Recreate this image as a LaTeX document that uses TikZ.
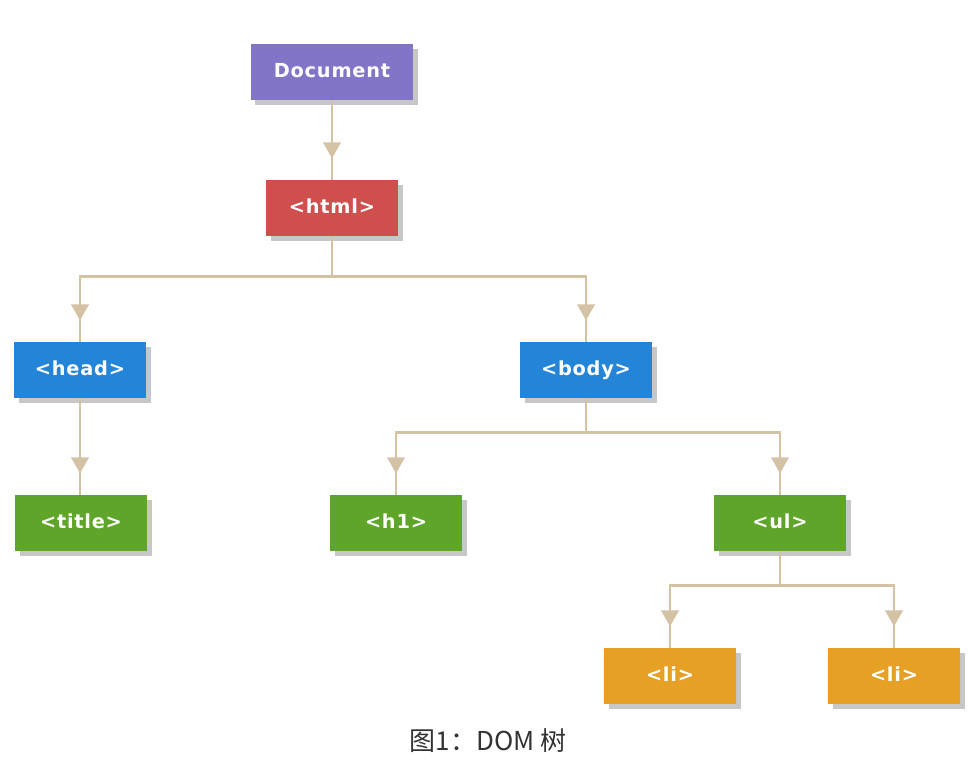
\documentclass[tikz,border=0pt]{standalone}
\usepackage{fontspec}
\usepackage{xcolor}
\usepackage{tikz}
\usetikzlibrary{arrows.meta,shadows,decorations.markings}
\newfontfamily\boxfont{DejaVu Sans}[LetterSpace=4]
\newfontfamily\cjkfont{Noto Sans CJK SC}
\definecolor{docpurple}{HTML}{8275C8}
\definecolor{htmlred}{HTML}{CF4E4E}
\definecolor{tagblue}{HTML}{2484D8}
\definecolor{taggreen}{HTML}{5FA52A}
\definecolor{tagorange}{HTML}{E6A026}
\definecolor{linktan}{HTML}{D3C2A3}
\definecolor{captiongray}{HTML}{333333}

\begin{document}
\begin{tikzpicture}[
  x=0.75pt, y=-0.75pt,
  tag/.style={
    fill=#1, text=white, minimum width=99pt, minimum height=42pt,
    inner sep=0pt, text height=10.5pt, text depth=2.5pt,
    font=\boxfont\bfseries\fontsize{14.5}{16}\selectfont,
    drop shadow={shadow xshift=3.5pt, shadow yshift=-3.5pt,
      fill=black!22, opacity=1}
  },
  link/.style={
    draw=linktan, line width=2pt,
    postaction={decorate},
    decoration={markings,
      mark=at position -16pt with {\arrow[linktan]{Triangle[width=13pt,length=12pt]}}}
  }
]
\useasboundingbox (0,0) rectangle (972,779);
% nodes
\node[tag=docpurple, minimum width=122pt] (doc) at (332,72) {Document};
\node[tag=htmlred] (html) at (332,208) {<html>};
\node[tag=tagblue] (head) at (80,370) {<head>};
\node[tag=tagblue] (body) at (586,370) {<body>};
\node[tag=taggreen] (title) at (81,523) {<title>};
\node[tag=taggreen] (h1) at (396,523) {<h1>};
\node[tag=taggreen] (ul) at (780,523) {<ul>};
\node[tag=tagorange] (li1) at (670,676) {<li>};
\node[tag=tagorange] (li2) at (894,676) {<li>};
% connectors
\draw[link] (doc.south) -- (html.north);
\draw[link] (html.south) -- ++(0,40) -| (head.north);
\draw[link] (html.south) -- ++(0,40) -| (body.north);
\draw[link] (head.south) -- (head.south |- title.north);
\draw[link] (body.south) -- ++(0,34) -| (h1.north);
\draw[link] (body.south) -- ++(0,34) -| (ul.north);
\draw[link] (ul.south) -- ++(0,34) -| (li1.north);
\draw[link] (ul.south) -- ++(0,34) -| (li2.north);
% caption
\node[text=captiongray, font=\cjkfont\fontsize{19.5}{23}\selectfont] (cap) at (488,741) {图1：DOM 树};
\end{tikzpicture}
\end{document}
